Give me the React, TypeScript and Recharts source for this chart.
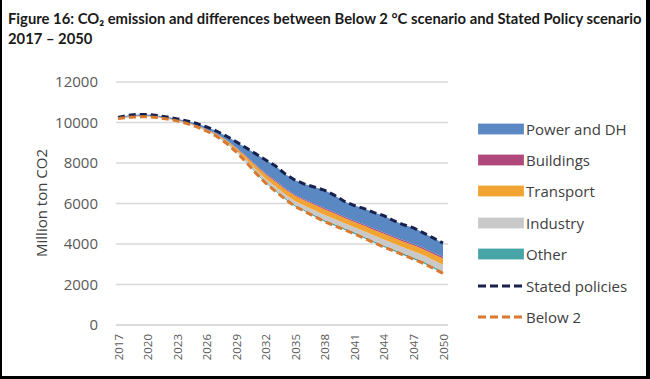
import { Area, CartesianGrid, ComposedChart, Line, XAxis, YAxis } from "recharts"

const years = [
  "2017", "2018", "2019", "2020", "2021", "2022", "2023", "2024", "2025", "2026",
  "2027", "2028", "2029", "2030", "2031", "2032", "2033", "2034", "2035", "2036",
  "2037", "2038", "2039", "2040", "2041", "2042", "2043", "2044", "2045", "2046",
  "2047", "2048", "2049", "2050",
]

const statedPolicies = [
  10250, 10350, 10400, 10400, 10350, 10270, 10180, 10080, 9950, 9780,
  9580, 9330, 9050, 8750, 8450, 8150, 7850, 7450, 7150, 6950,
  6800, 6650, 6400, 6100, 5900, 5750, 5550, 5400, 5150, 4950,
  4800, 4550, 4300, 4050,
]

const below2 = [
  10200, 10250, 10280, 10280, 10250, 10170, 10080, 9950, 9780, 9580,
  9320, 8980, 8550, 8050, 7500, 7000, 6600, 6200, 5850, 5600,
  5350, 5100, 4900, 4700, 4500, 4280, 4060, 3850, 3650, 3450,
  3250, 3050, 2800, 2550,
]

// differences between the scenarios, stacked on top of Below 2
const other = [
  5, 5, 5, 5, 5, 5, 5, 5, 10, 10,
  15, 20, 25, 35, 45, 55, 60, 60, 65, 65,
  70, 75, 75, 75, 75, 80, 80, 80, 80, 80,
  85, 85, 85, 90,
]
const industry = [
  10, 15, 20, 20, 15, 15, 15, 20, 25, 30,
  40, 50, 70, 100, 130, 160, 180, 190, 200, 215,
  235, 255, 260, 250, 255, 270, 280, 290, 295, 300,
  310, 320, 330, 340,
]
const transport = [
  10, 20, 25, 25, 20, 20, 20, 25, 35, 40,
  55, 75, 100, 140, 190, 220, 240, 240, 250, 255,
  265, 275, 270, 260, 260, 270, 275, 285, 280, 285,
  290, 290, 295, 300,
]
const buildings = [
  5, 5, 5, 5, 5, 5, 5, 5, 10, 10,
  15, 15, 20, 30, 40, 45, 50, 50, 55, 55,
  60, 60, 60, 60, 60, 65, 65, 65, 65, 70,
  70, 70, 75, 75,
]
const powerAndDH = [
  20, 55, 65, 65, 55, 55, 55, 75, 90, 110,
  135, 190, 285, 395, 545, 670, 720, 710, 730, 760,
  820, 885, 835, 755, 750, 785, 790, 830, 780, 765,
  795, 735, 715, 695,
]

const yTicks = [0, 2000, 4000, 6000, 8000, 10000, 12000]

const chartData = years.map((year, i) => ({
  year,
  base: below2[i],
  other: other[i],
  industry: industry[i],
  transport: transport[i],
  buildings: buildings[i],
  power: powerAndDH[i],
  stated: statedPolicies[i],
  below2: below2[i],
}))

const colors = {
  power: "#5A88C2",
  buildings: "#B0497A",
  transport: "#F2A432",
  industry: "#C9C9C9",
  other: "#47A5A8",
  stated: "#17214F",
  below2: "#D9782F",
}

const legendItems = [
  { name: "Power and DH", color: colors.power, dashed: false },
  { name: "Buildings", color: colors.buildings, dashed: false },
  { name: "Transport", color: colors.transport, dashed: false },
  { name: "Industry", color: colors.industry, dashed: false },
  { name: "Other", color: colors.other, dashed: false },
  { name: "Stated policies", color: colors.stated, dashed: true },
  { name: "Below 2", color: colors.below2, dashed: true },
]

const font = "'Open Sans', sans-serif"

function YearTick(props: any) {
  const { x, y, payload } = props
  return (
    <text
      x={x}
      y={y + 1}
      transform={`rotate(-90 ${x} ${y + 1})`}
      textAnchor="end"
      dominantBaseline="central"
      fill="#595959"
      fontSize={11.5}
      fontFamily={font}
    >
      {payload.value}
    </text>
  )
}

function ChartLegend() {
  return (
    <div style={{ position: "absolute", left: 476, top: 113, fontFamily: font }}>
      {legendItems.map((item) => (
        <div
          key={item.name}
          style={{ display: "flex", alignItems: "center", height: 31.4 }}
        >
          <svg width={46} height={12} style={{ marginRight: 2 }}>
            {item.dashed ? (
              <line
                x1={0}
                y1={6}
                x2={45}
                y2={6}
                stroke={item.color}
                strokeWidth={3}
                strokeDasharray="8 4"
              />
            ) : (
              <rect x={0.5} y={1} width={45} height={10} fill={item.color} stroke={item.color} strokeOpacity={0.8} />
            )}
          </svg>
          <span style={{ fontSize: 15, color: "#404040" }}>{item.name}</span>
        </div>
      ))}
    </div>
  )
}

export default function App() {
  return (
    <div
      style={{
        position: "absolute",
        left: 0,
        top: 0,
        width: 650,
        height: 379,
        background: "#fff",
        boxSizing: "border-box",
        borderLeft: "2px solid #000",
        borderRight: "4px solid #000",
        borderBottom: "3px solid #000",
        overflow: "hidden",
      }}
    >
      <div
        style={{
          position: "absolute",
          left: 6,
          top: 8,
          fontFamily: "Lato, sans-serif",
          fontWeight: 700,
          fontSize: 14.8,
          lineHeight: "20px",
          color: "#1a1a1a",
          whiteSpace: "nowrap",
        }}
      >
        Figure 16: CO₂ emission and differences between Below 2 °C scenario and Stated Policy scenario
        <br />
        2017 – 2050
      </div>

      <div
        style={{
          position: "absolute",
          left: 39,
          top: 203,
          transform: "translate(-50%, -50%) rotate(-90deg)",
          fontFamily: font,
          fontSize: 15,
          color: "#404040",
          whiteSpace: "nowrap",
        }}
      >
        Million ton CO2
      </div>

      <div style={{ position: "absolute", left: -2, top: 0 }}>
        <ComposedChart
          width={650}
          height={379}
          data={chartData}
          margin={{ top: 82, right: 202, bottom: 14, left: 56 }}
        >
          <CartesianGrid vertical={false} stroke="#D9D9D9" strokeWidth={1.3} />
          <XAxis
            dataKey="year"
            interval={2}
            height={40}
            tickLine={false}
            axisLine={{ stroke: "#D9D9D9", strokeWidth: 1.3 }}
            tick={YearTick}
            padding={{ left: 2, right: 5 }}
          />
          <YAxis
            width={60}
            domain={[0, 12000]}
            ticks={yTicks}
            axisLine={false}
            tickLine={false}
            tickMargin={12}
            tick={{ fontSize: 15, fill: "#595959", fontFamily: font }}
          />
          <Area dataKey="base" stackId="gap" fill="none" stroke="none" isAnimationActive={false} />
          <Area dataKey="other" stackId="gap" fill={colors.other} fillOpacity={1} stroke="none" isAnimationActive={false} />
          <Area dataKey="industry" stackId="gap" fill={colors.industry} fillOpacity={1} stroke="none" isAnimationActive={false} />
          <Area dataKey="transport" stackId="gap" fill={colors.transport} fillOpacity={1} stroke="none" isAnimationActive={false} />
          <Area dataKey="buildings" stackId="gap" fill={colors.buildings} fillOpacity={1} stroke="none" isAnimationActive={false} />
          <Area dataKey="power" stackId="gap" fill={colors.power} fillOpacity={1} stroke="none" isAnimationActive={false} />
          <Line
            dataKey="stated"
            stroke={colors.stated}
            strokeWidth={3}
            strokeDasharray="7 4"
            dot={false}
            type="linear"
            isAnimationActive={false}
          />
          <Line
            dataKey="below2"
            stroke={colors.below2}
            strokeWidth={3}
            strokeDasharray="7 4"
            dot={false}
            type="linear"
            isAnimationActive={false}
          />
        </ComposedChart>
      </div>

      <ChartLegend />
    </div>
  )
}
